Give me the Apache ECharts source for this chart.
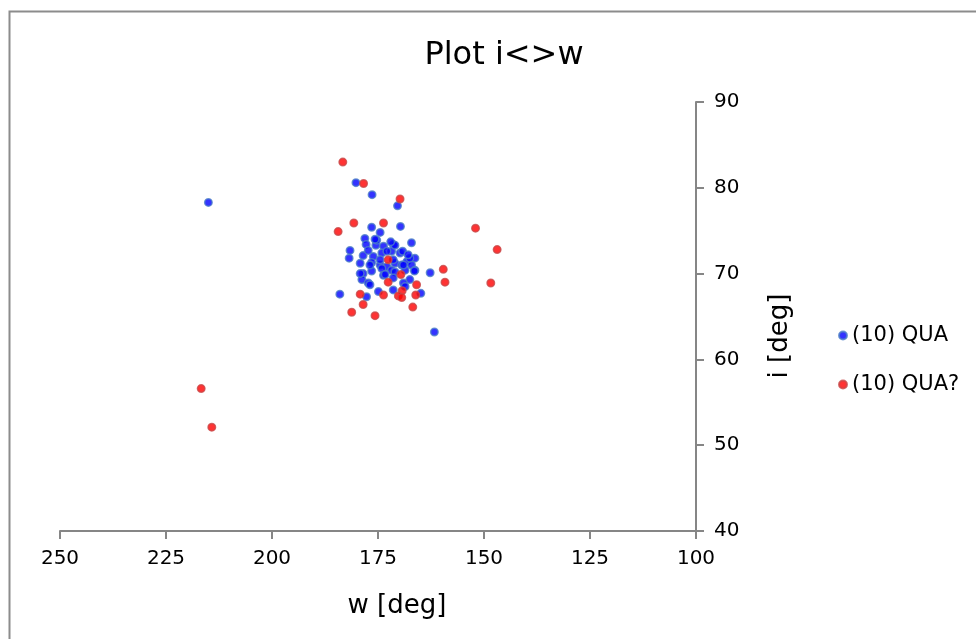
<!DOCTYPE html>
<html>
<head>
<meta charset="utf-8">
<script src="https://cdn.jsdelivr.net/npm/echarts@6/dist/echarts.min.js"></script>
<style>
  html, body { margin: 0; padding: 0; background: #fff; }
  #chart { width: 976px; height: 639px; }
</style>
</head>
<body>
<div id="chart"></div>
<script>
// (10) QUA  -- w [deg], i [deg]
var quaW = [215.0, 184.0, 161.7, 180.2, 176.4, 170.4, 169.7, 162.7, 181.8, 176.5,
  174.5, 178.1, 177.8, 175.5, 173.7, 181.6, 178.5, 176.1, 174.1, 179.2,
  176.5, 174.5, 172.9, 167.1, 171.4, 171.8, 169.8, 168.2, 166.3, 172.9,
  171.0, 169.4, 167.1, 178.5, 176.5, 174.1, 173.7, 178.8, 177.3, 174.9,
  177.7, 171.8, 168.6, 166.3, 167.5, 164.9, 169.0, 175.3, 171.0, 172.0,
  169.2, 176.9, 174.5, 171.4, 169.0, 167.5, 166.4, 179.2, 176.9, 173.3,
  171.0, 168.6, 171.4, 175.7, 177.3, 167.9, 171.4];
var quaI = [78.3, 67.6, 63.2, 80.6, 79.2, 77.9, 75.5, 70.1, 71.8, 75.4,
  74.8, 74.1, 73.4, 73.3, 73.2, 72.7, 72.1, 72.0, 72.4, 71.2,
  71.3, 71.0, 70.8, 73.6, 73.4, 72.6, 72.4, 71.4, 71.8, 72.6,
  71.2, 71.0, 71.0, 70.0, 70.3, 70.6, 69.8, 69.3, 68.9, 67.9,
  67.3, 70.4, 70.4, 70.4, 69.3, 67.7, 68.9, 73.9, 73.3, 73.7,
  72.6, 71.0, 71.6, 71.6, 71.0, 71.8, 70.3, 70.0, 68.7, 69.9,
  70.2, 68.5, 68.1, 74.0, 72.7, 72.2, 69.5];

// (10) QUA?
var quaqW = [183.3, 178.4, 169.8, 180.7, 184.4, 173.7, 152.0, 146.9, 148.4, 172.6,
  159.6, 159.2, 169.6, 172.6, 165.9, 169.3, 179.2, 173.7, 170.2, 169.4,
  166.1, 178.5, 166.8, 181.2, 175.7, 216.7, 214.2];
var quaqI = [83.0, 80.5, 78.7, 75.9, 74.9, 75.9, 75.3, 72.8, 68.9, 71.6,
  70.5, 69.0, 69.9, 69.0, 68.7, 68.0, 67.6, 67.5, 67.4, 67.2,
  67.5, 66.4, 66.1, 65.5, 65.1, 56.6, 52.1];

var seriesNames = ['(10) QUA', '(10) QUA?'];

function pairs(xs, ys) {
  var out = [];
  for (var k = 0; k < xs.length; k++) out.push([xs[k], ys[k]]);
  return out;
}

var font = 'DejaVu Sans';
var myChart = echarts.init(document.getElementById('chart'));
var option = {
  backgroundColor: '#fff',
  animation: false,
  title: {
    text: 'Plot i<>w',
    left: 499,
    top: 35,
    textAlign: 'center',
    textStyle: { fontFamily: font, fontSize: 32, fontWeight: 'normal', color: '#000' }
  },
  graphic: [{
    type: 'rect',
    shape: { x: 9.5, y: 11.5, width: 1000, height: 1000 },
    style: { fill: 'none', stroke: '#8c8c8c', lineWidth: 2 }
  }, {
    // x axis title
    type: 'text',
    x: 397,
    y: 606,
    style: { text: 'w [deg]', font: '26px "DejaVu Sans"', fill: '#000', align: 'center', verticalAlign: 'middle' }
  }, {
    // y axis title, reads bottom to top
    type: 'text',
    x: 780,
    y: 336,
    rotation: Math.PI / 2,
    style: { text: 'i [deg]', font: '26px "DejaVu Sans"', fill: '#000', align: 'center', verticalAlign: 'middle' }
  }],
  legend: {
    orient: 'vertical',
    left: 833,
    top: 318,
    itemWidth: 8,
    itemHeight: 8,
    itemGap: 24,
    textStyle: { fontFamily: font, fontSize: 21, color: '#000', lineHeight: 25 },
    data: seriesNames
  },
  grid: { left: 60, right: 280, top: 102, bottom: 108 },
  xAxis: {
    type: 'value',
    min: 100,
    max: 250,
    interval: 25,
    inverse: true,
    axisLine: { show: true, onZero: false, lineStyle: { color: '#868686', width: 2 } },
    axisTick: { show: true, length: 8, lineStyle: { color: '#868686', width: 2 } },
    axisLabel: { fontFamily: font, fontSize: 20, color: '#000', margin: 18 },
    splitLine: { show: false }
  },
  yAxis: {
    type: 'value',
    position: 'right',
    min: 40,
    max: 90,
    interval: 10,
    axisLine: { show: true, onZero: false, lineStyle: { color: '#868686', width: 2 } },
    axisTick: { show: true, length: 8, lineStyle: { color: '#868686', width: 2 } },
    axisLabel: { fontFamily: font, fontSize: 20, color: '#000', margin: 18 },
    splitLine: { show: false }
  },
  series: [{
    name: seriesNames[0],
    type: 'scatter',
    symbol: 'circle',
    symbolSize: 7.5,
    itemStyle: { color: '#0000ff', borderColor: '#4f81c8', borderWidth: 1.5 },
    data: pairs(quaW, quaI)
  }, {
    name: seriesNames[1],
    type: 'scatter',
    symbol: 'circle',
    symbolSize: 7.5,
    itemStyle: { color: '#ff0000', borderColor: '#c84848', borderWidth: 1.5 },
    data: pairs(quaqW, quaqI)
  }]
};
myChart.setOption(option);
</script>
</body>
</html>
